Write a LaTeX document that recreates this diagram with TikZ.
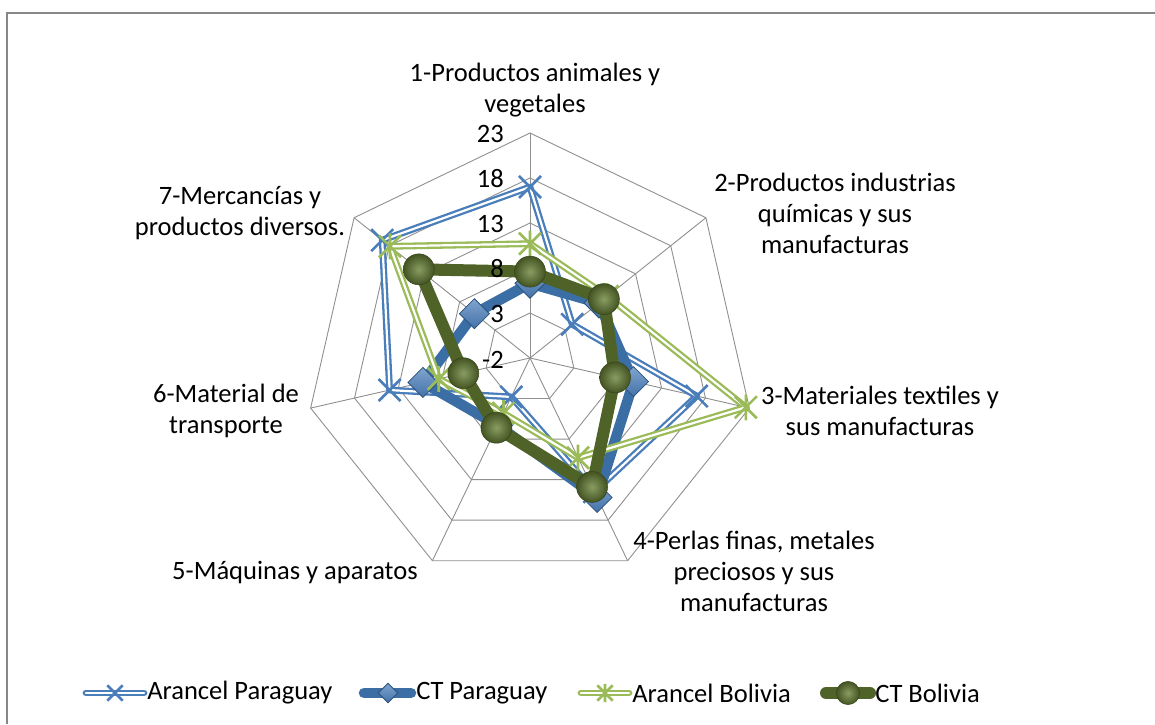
\documentclass[tikz,border=0pt]{standalone}
\usepackage{fontspec}
\setmainfont{Carlito}
\newlength{\du}
\setlength{\du}{0.75pt}

\definecolor{gridcolor}{rgb}{0.560000, 0.560000, 0.560000}
\definecolor{framecolor}{rgb}{0.530000, 0.530000, 0.530000}
\definecolor{apcolor}{rgb}{0.290000, 0.494000, 0.733000}
\definecolor{cpcolor}{rgb}{0.231000, 0.431000, 0.647000}
\definecolor{abcolor}{rgb}{0.608000, 0.733000, 0.349000}
\definecolor{cbcolor}{rgb}{0.310000, 0.384000, 0.157000}
\definecolor{cbball}{rgb}{0.420000, 0.520000, 0.230000}

\tikzset{
  apmark/.pic={\draw[apcolor, line width=2.6\du] (-11\du,-11\du) -- (11\du,11\du) (-11\du,11\du) -- (11\du,-11\du);},
  abmark/.pic={\draw[abcolor, line width=2.6\du] (-11\du,-11\du) -- (11\du,11\du) (-11\du,11\du) -- (11\du,-11\du) (0,-13\du) -- (0,13\du);},
  cpmark/.pic={\shade[top color=apcolor!70!white, bottom color=apcolor!90!black, draw=cpcolor!75!black, line width=0.8\du] (0,15\du) -- (15\du,0) -- (0,-15\du) -- (-15\du,0) -- cycle;},
  cbmark/.pic={\shade[inner color=cbball!80!white, outer color=cbcolor!85!black, draw=cbcolor!70!black, line width=0.5\du] (0,0) circle (15.5\du);}
}

\begin{document}
\begin{tikzpicture}[
  gridline/.style={draw=gridcolor, line width=0.9\du},
  araparaguay/.style={draw=apcolor, line width=2.3\du, double=white, double distance=2.2\du, line join=round},
  ctparaguay/.style={draw=cpcolor, line width=10.5\du, line join=round},
  arabolivia/.style={draw=abcolor, line width=2.3\du, double=white, double distance=2.2\du, line join=round},
  ctbolivia/.style={draw=cbcolor, line width=12\du, line join=round},
  legendline/.style={line cap=round},
  catlabel/.style={align=center, inner sep=0pt, font=\fontsize{19.9}{23.3}\selectfont},
  ticklabel/.style={anchor=east, inner sep=0pt, font=\fontsize{19.9}{23.3}\selectfont},
  legendtext/.style={anchor=west, inner sep=0pt, font=\fontsize{19.9}{23.3}\selectfont}
]
\useasboundingbox (-530\du,-366\du) rectangle (625\du,358\du);
\draw[framecolor, line width=2.2\du] (-523\du,-366\du) -- (-523\du,345\du) -- (625\du,345\du);

% grid of the radar
\foreach \r in {45,90,135,180,225}
  \draw[gridline] (90:\r\du) -- (38.57:\r\du) -- (-12.86:\r\du) -- (-64.29:\r\du)
    -- (-115.71:\r\du) -- (-167.14:\r\du) -- (141.43:\r\du) -- cycle;
\foreach \a in {90,38.57,-12.86,-64.29,-115.71,-167.14,141.43}
  \draw[gridline] (0,0) -- (\a:225\du);

% categories
\node[catlabel] (cat1) at (5\du,268\du) {1-Productos animales y\\vegetales};
\node[catlabel] (cat2) at (305\du,145\du) {2-Productos industrias\\químicas y sus\\manufacturas};
\node[catlabel] (cat3) at (350\du,-53\du) {3-Materiales textiles y\\sus manufacturas};
\node[catlabel] (cat4) at (224\du,-213\du) {4-Perlas finas, metales\\preciosos y sus\\manufacturas};
\node[catlabel] (cat5) at (-235\du,-215\du) {5-Máquinas y aparatos};
\node[catlabel] (cat6) at (-304\du,-53\du) {6-Material de\\transporte};
\node[catlabel] (cat7) at (-290\du,145\du) {7-Mercancías y\\productos diversos.};

% Arancel Paraguay
\coordinate (ap1) at (90:171\du);
\coordinate (ap2) at (38.57:54\du);
\coordinate (ap3) at (-12.86:171\du);
\coordinate (ap4) at (-64.29:148.5\du);
\coordinate (ap5) at (-115.71:43.2\du);
\coordinate (ap6) at (-167.14:144\du);
\coordinate (ap7) at (141.43:189\du);
\draw[araparaguay] (ap1) -- (ap2) -- (ap3) -- (ap4) -- (ap5) -- (ap6) -- (ap7) -- cycle;
\foreach \p in {ap1,ap2,ap3,ap4,ap5,ap6,ap7}
  \pic at (\p) {apmark};

% CT Paraguay
\coordinate (cp1) at (90:74.7\du);
\coordinate (cp2) at (38.57:88.2\du);
\coordinate (cp3) at (-12.86:106.2\du);
\coordinate (cp4) at (-64.29:154.8\du);
\coordinate (cp5) at (-115.71:74.7\du);
\coordinate (cp6) at (-167.14:109.8\du);
\coordinate (cp7) at (141.43:71.1\du);
\draw[ctparaguay] (cp1) -- (cp2) -- (cp3) -- (cp4) -- (cp5) -- (cp6) -- (cp7) -- cycle;
\foreach \p in {cp1,cp2,cp3,cp4,cp5,cp6,cp7}
  \pic at (\p) {cpmark};

% Arancel Bolivia
\coordinate (ab1) at (90:114.3\du);
\coordinate (ab2) at (38.57:99\du);
\coordinate (ab3) at (-12.86:221.4\du);
\coordinate (ab4) at (-64.29:110.7\du);
\coordinate (ab5) at (-115.71:61.2\du);
\coordinate (ab6) at (-167.14:93.6\du);
\coordinate (ab7) at (141.43:179.1\du);
\draw[arabolivia] (ab1) -- (ab2) -- (ab3) -- (ab4) -- (ab5) -- (ab6) -- (ab7) -- cycle;
\foreach \p in {ab1,ab2,ab3,ab4,ab5,ab6,ab7}
  \pic at (\p) {abmark};

% CT Bolivia
\coordinate (cb1) at (90:86.4\du);
\coordinate (cb2) at (38.57:94.5\du);
\coordinate (cb3) at (-12.86:87.3\du);
\coordinate (cb4) at (-64.29:143.1\du);
\coordinate (cb5) at (-115.71:77.4\du);
\coordinate (cb6) at (-167.14:68.4\du);
\coordinate (cb7) at (141.43:142.2\du);
\draw[ctbolivia] (cb1) -- (cb2) -- (cb3) -- (cb4) -- (cb5) -- (cb6) -- (cb7) -- cycle;
\foreach \p in {cb1,cb2,cb3,cb4,cb5,cb6,cb7}
  \pic at (\p) {cbmark};

% values on the axis, over the series
\node[ticklabel] (t23) at (-26\du,224\du) {23};
\node[ticklabel] (t18) at (-26\du,179\du) {18};
\node[ticklabel] (t13) at (-26\du,134\du) {13};
\node[ticklabel] (t8) at (-26\du,89\du) {8};
\node[ticklabel] (t3) at (-26\du,44\du) {3};
\node[ticklabel] (tm2) at (-26\du,-2\du) {-2};

% legend
\coordinate (lap1) at (-444\du,-335\du);
\coordinate (lap2) at (-386\du,-335\du);
\draw[araparaguay, legendline] (lap1) -- (lap2);
\pic[scale=0.7] at (-415\du,-335\du) {apmark};
\node[legendtext] (lapt) at (-383\du,-335\du) {Arancel Paraguay};
\coordinate (lcp1) at (-166\du,-335\du);
\coordinate (lcp2) at (-119\du,-335\du);
\draw[ctparaguay, legendline] (lcp1) -- (lcp2);
\pic[scale=0.65] at (-142\du,-335\du) {cpmark};
\node[legendtext] (lcpt) at (-114\du,-335\du) {CT Paraguay};
\coordinate (lab1) at (51\du,-335\du);
\coordinate (lab2) at (99\du,-335\du);
\draw[arabolivia, legendline] (lab1) -- (lab2);
\pic[scale=0.7] at (75\du,-335\du) {abmark};
\node[legendtext] (labt) at (102\du,-335\du) {Arancel Bolivia};
\coordinate (lcb1) at (296\du,-335\du);
\coordinate (lcb2) at (340\du,-335\du);
\draw[ctbolivia, legendline] (lcb1) -- (lcb2);
\pic[scale=0.75] at (318\du,-335\du) {cbmark};
\node[legendtext] (lcbt) at (345\du,-335\du) {CT Bolivia};
\end{tikzpicture}
\end{document}
